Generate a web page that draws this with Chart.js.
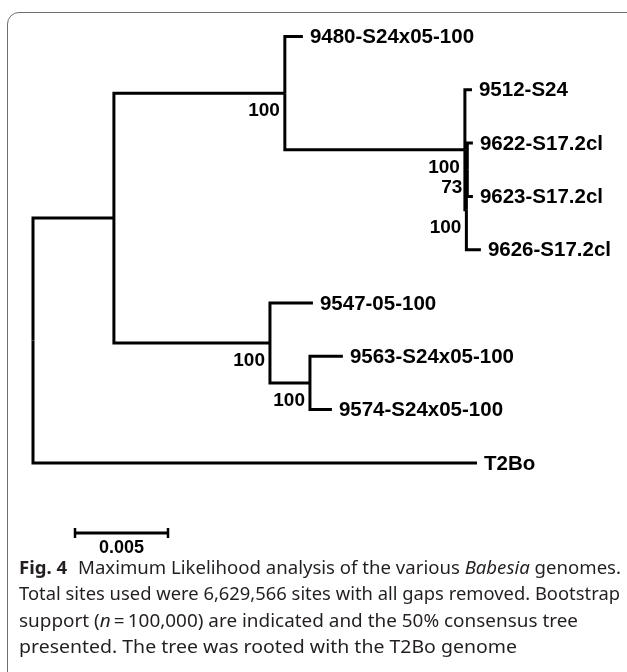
<!DOCTYPE html>
<html>
<head>
<meta charset="utf-8">
<script src="https://cdn.jsdelivr.net/npm/chart.js@4.4.1/dist/chart.umd.min.js"></script>
<style>
  html, body { margin: 0; padding: 0; background: #fff; overflow: hidden; }
  #wrap { position: relative; width: 627px; height: 672px; overflow: hidden; }
  #frame { position: absolute; left: 7px; top: 12px; width: 640px; height: 700px;
           border: 1.3px solid #6e6e6e; border-radius: 12px; box-sizing: border-box; }
  #c { position: absolute; left: 0; top: 0; }
  .cap { position: absolute; left: 19px; white-space: nowrap; font-family: "Noto Sans", "Open Sans", sans-serif;
         font-size: 18.5px; line-height: 26px; color: #231f20; transform-origin: 0 50%; }
  .cap b { font-weight: 700; margin-right: 6px; }
</style>
</head>
<body>
<div id="wrap">
  <div id="frame"></div>
  <canvas id="c" width="627" height="672"></canvas>
  <div class="cap" id="l1" data-w="602" style="top:554px"><b>Fig. 4</b> Maximum Likelihood analysis of the various <i>Babesia</i> genomes.</div>
  <div class="cap" id="l2" data-w="601" style="top:580px">Total sites used were 6,629,566 sites with all gaps removed. Bootstrap</div>
  <div class="cap" id="l3" data-w="559" style="top:607px">support (<i>n</i>&#8201;=&#8201;100,000) are indicated and the 50% consensus tree</div>
  <div class="cap" id="l4" data-w="498" style="top:633px">presented. The tree was rooted with the T2Bo genome</div>
</div>
<script>
// ---- tree data (node index order) ----
const nodeParent   = [-1, 0, 1, 2, 2, 4, 4, 6, 7, 7, 6, 1, 11, 11, 13, 13, 0];
const branchLength = [0, 0.00435, 0.00919, 0.00097, 0.00968, 0.00038, 0.00008, 0.00005,
                      0.00030, 0.00030, 0.00078, 0.00839, 0.00231, 0.00215, 0.00177, 0.00118, 0.02387];
const taxonLabel   = ['', '', '', '9480-S24x05-100', '', '9512-S24', '', '', '9622-S17.2cl',
                      '9623-S17.2cl', '9626-S17.2cl', '', '9547-05-100', '', '9563-S24x05-100',
                      '9574-S24x05-100', 'T2Bo'];
const bootstrap    = [null, null, 100, null, 100, null, 100, 73, null, null, null, 100, null, 100, null, null, null];
const scaleBarLength = 0.005;
const scaleBarLabel = '0.005';

// ---- layout from data ----
const n = nodeParent.length;
const children = Array.from({length: n}, () => []);
nodeParent.forEach((p, i) => { if (p >= 0) children[p].push(i); });
const X = new Array(n).fill(0), Y = new Array(n).fill(0);
let leafCounter = 0;
(function walk(i, x) {
  X[i] = x;
  if (children[i].length === 0) { Y[i] = leafCounter++; return; }
  children[i].forEach(c => walk(c, x + branchLength[c]));
  const ch = children[i];
  Y[i] = (Y[ch[0]] + Y[ch[ch.length - 1]]) / 2;
})(0, 0);

const PXU = 18600;          // pixels per substitution unit
const ROW = 53.3;           // pixels per leaf row
const xMin = -33 / PXU, xMax = (627 - 33) / PXU;
const yMin = -36.5 / ROW, yMax = yMin + 672 / ROW;

const datasets = [];
for (let i = 1; i < n; i++) {
  const p = nodeParent[i];
  datasets.push({
    data: [{x: X[p], y: Y[p]}, {x: X[p], y: Y[i]}, {x: X[i], y: Y[i]}],
    borderColor: '#000', borderWidth: 3, pointRadius: 0, showLine: true,
    borderJoinStyle: 'miter', borderCapStyle: 'butt', tension: 0
  });
}
// scale bar
const sbX0 = 42 / PXU, sbY = (533 - 36.5) / ROW, capH = 5 / ROW;
datasets.push({ data: [{x: sbX0, y: sbY}, {x: sbX0 + scaleBarLength, y: sbY}],
  borderColor: '#000', borderWidth: 3, pointRadius: 0, showLine: true });
[sbX0, sbX0 + scaleBarLength].forEach(xx => datasets.push({
  data: [{x: xx, y: sbY - capH}, {x: xx, y: sbY + capH}],
  borderColor: '#000', borderWidth: 2.5, pointRadius: 0, showLine: true }));

const labelPlugin = {
  id: 'treeLabels',
  afterDatasetsDraw(chart) {
    const ctx = chart.ctx, xs = chart.scales.x, ys = chart.scales.y;
    ctx.save();
    ctx.fillStyle = '#000';
    ctx.textBaseline = 'middle';
    ctx.font = 'bold 20.5px "Liberation Sans", Arial, sans-serif';
    ctx.textAlign = 'left';
    for (let i = 0; i < n; i++) {
      if (taxonLabel[i]) ctx.fillText(taxonLabel[i], xs.getPixelForValue(X[i]) + 7, ys.getPixelForValue(Y[i]) + 1);
    }
    ctx.font = 'bold 19px "Liberation Sans", Arial, sans-serif';
    ctx.textAlign = 'right';
    for (let i = 0; i < n; i++) {
      if (bootstrap[i] != null) ctx.fillText(String(bootstrap[i]), xs.getPixelForValue(X[i]) - 5, ys.getPixelForValue(Y[i]) + 18);
    }
    ctx.font = 'bold 18px "Liberation Sans", Arial, sans-serif';
    ctx.textAlign = 'center';
    ctx.fillText(scaleBarLabel, xs.getPixelForValue(sbX0 + scaleBarLength / 2), ys.getPixelForValue(sbY) + 15);
    ctx.restore();
  }
};

new Chart(document.getElementById('c'), {
  type: 'scatter',
  data: { datasets },
  options: {
    responsive: false, animation: false, events: [],
    layout: { padding: 0 },
    plugins: { legend: { display: false }, tooltip: { enabled: false } },
    scales: {
      x: { type: 'linear', display: false, min: xMin, max: xMax },
      y: { type: 'linear', display: false, reverse: true, min: yMin, max: yMax }
    }
  },
  plugins: [labelPlugin]
});

// fit caption lines to the reference widths
document.querySelectorAll('.cap').forEach(el => {
  const w = el.getBoundingClientRect().width;
  const t = parseFloat(el.dataset.w);
  el.style.transform = 'scaleX(' + (t / w).toFixed(4) + ')';
});
</script>
</body>
</html>
